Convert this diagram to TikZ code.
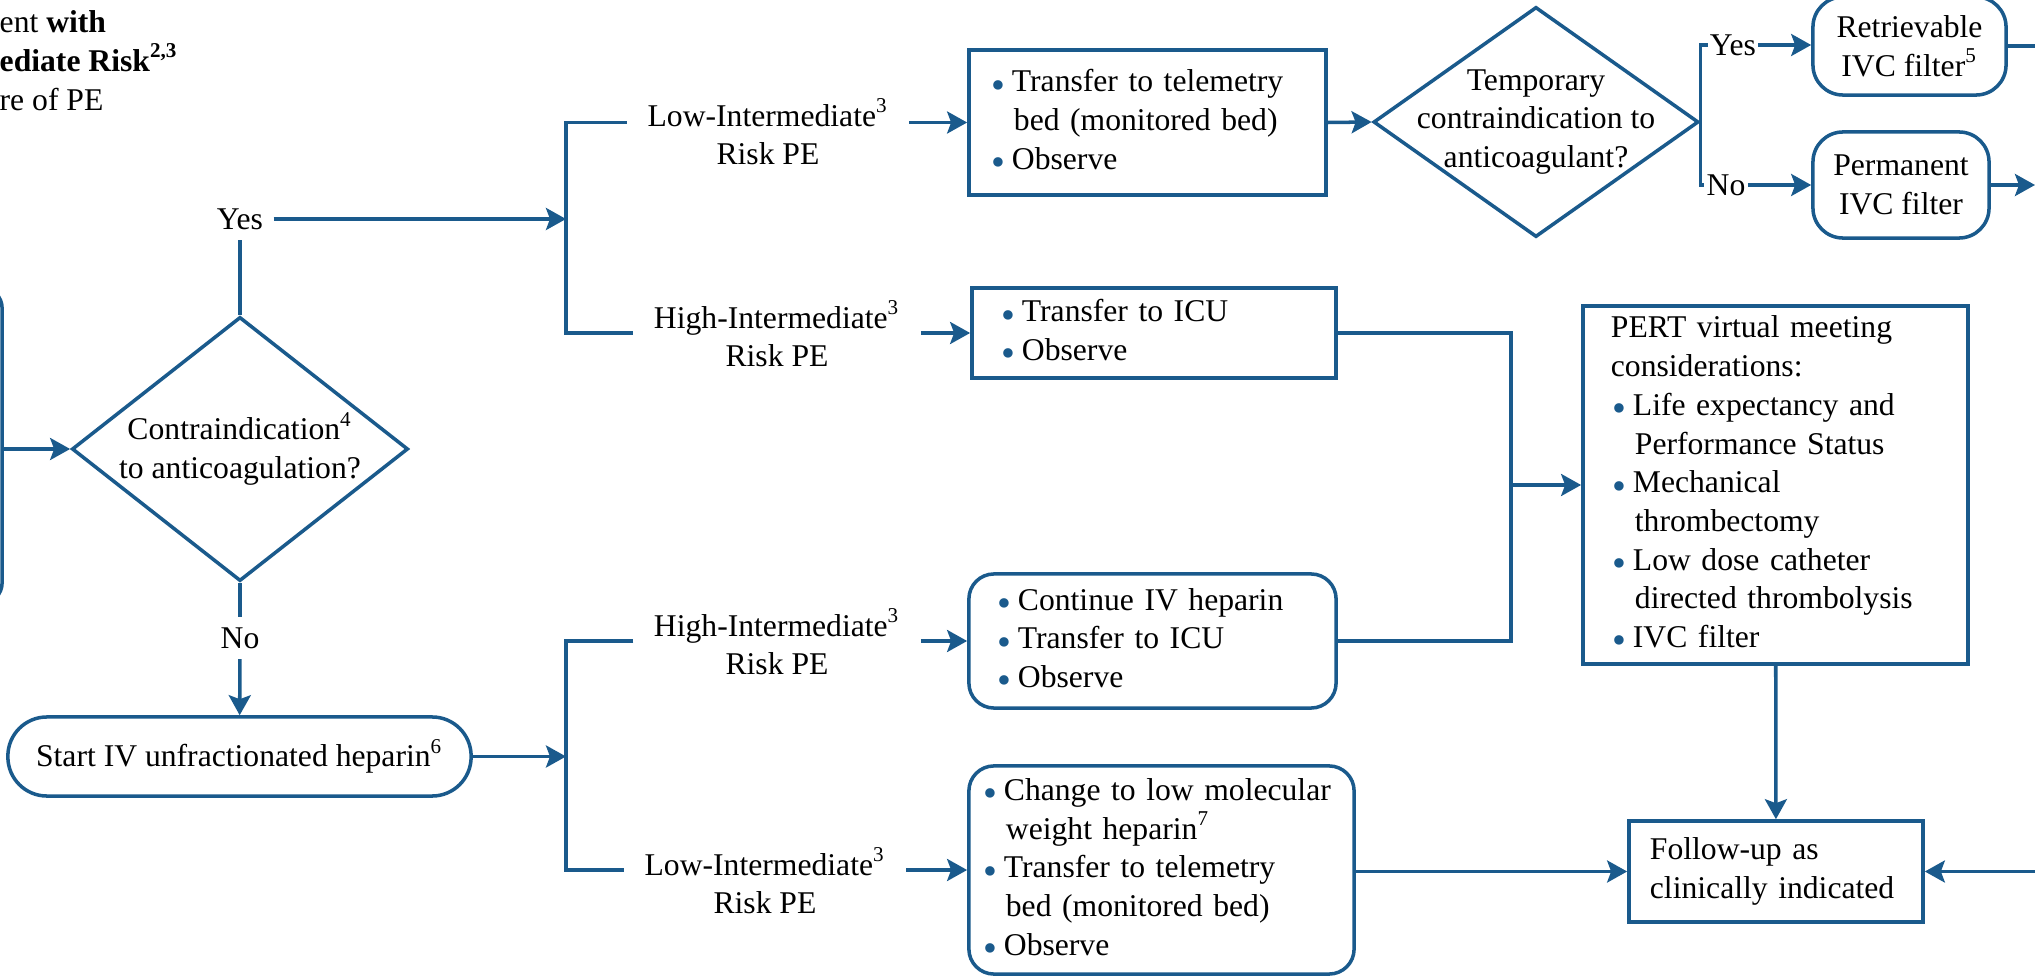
\documentclass[tikz,border=0pt]{standalone}
\usepackage{fontspec}
\setmainfont{Liberation Serif}
\usepackage{xcolor}
\definecolor{cMain}{HTML}{1A5A8C}
\usetikzlibrary{positioning,arrows.meta,shapes.geometric}
\newcommand{\fs}{\fontsize{9pt}{11pt}\selectfont}
\newcommand{\bul}{\makebox[0.15cm][l]{\hspace*{-0.05cm}\textcolor{cMain}{\raisebox{-0.45ex}{\scalebox{1.25}{•}}}}}
\newcommand{\bcont}{\hspace*{0.17cm}}
\tikzset{
  node-box/.style={draw=cMain,line width=1pt,rectangle,inner sep=0pt,
    align=left,font=\fs},
  node-round/.style={node-box,rounded corners=0.25cm},
  node-dec/.style={draw=cMain,line width=1pt,diamond,inner sep=-0.2cm,
    align=center,font=\fs},
  node-lab/.style={align=center,font=\fs,inner xsep=0.2cm,inner ysep=0.05cm},
  node-yn/.style={font=\fs,inner sep=0.1cm},
  plain-line/.style={line width=1pt,draw=cMain},
  arrow/.style={plain-line,-{Stealth[length=2mm,width=2.2mm,inset=0.4mm]}},
}

\begin{document}
\begin{tikzpicture}[x=0.01cm,y=-0.01cm]
  \useasboundingbox (0,0) rectangle (2035,976);
  % left part, cut off by the page edge
  \node[anchor=north west,inner sep=0pt,align=left,font=\fs] (head) at (-1,10)
    {ent \textbf{with}\\\textbf{ediate Risk}\textsuperscript{\textbf{2,3}}\\re of PE};
  \node[node-round,rounded corners=0.2cm,minimum width=3.02cm,minimum height=3.15cm] (prev) at (-149,445.5) {};

  \node[node-dec,minimum width=3.36cm,minimum height=2.64cm,aspect=1.27] (dec1) at (240,449)
    {Contraindication\textsuperscript{4}\\to anticoagulation?};
  \node[node-yn] (yes1) at (240,219) {Yes};
  \node[node-yn] (no1)  at (240,638) {No};
  \node[node-round,rounded corners=0.39cm,minimum width=4.63cm,minimum height=0.79cm] (start) at (239.5,756.5)
    {Start IV unfractionated heparin\textsuperscript{6}};

  % risk labels
  \node[node-lab] (lowA)  at (768,132) {Low-Intermediate\textsuperscript{3}\\Risk PE};
  \node[node-lab] (highA) at (777,334) {High-Intermediate\textsuperscript{3}\\Risk PE};
  \node[node-lab] (highB) at (777,642) {High-Intermediate\textsuperscript{3}\\Risk PE};
  \node[node-lab] (lowB)  at (765,881) {Low-Intermediate\textsuperscript{3}\\Risk PE};

  % actions
  \node[node-box,minimum width=3.57cm,minimum height=1.45cm,text width=3.01cm] (boxA) at (1147.5,122.5)
    {\bul Transfer to telemetry\\\bcont bed (monitored bed)\\\bul Observe};
  \node[node-box,minimum width=3.64cm,minimum height=0.9cm,text width=2.94cm] (boxB) at (1154,333)
    {\bul Transfer to ICU\\\bul Observe};
  \node[node-round,minimum width=3.67cm,minimum height=1.34cm,text width=2.99cm] (boxC) at (1152.5,641)
    {\bul Continue IV heparin\\\bul Transfer to ICU\\\bul Observe};
  \node[node-round,minimum width=3.85cm,minimum height=2.08cm,text width=3.45cm] (boxD) at (1161.5,870)
    {\bul Change to low molecular\\\bcont weight heparin\textsuperscript{7}\\\bul Transfer to telemetry\\\bcont bed (monitored bed)\\\bul Observe};

  \node[node-dec,minimum width=3.25cm,minimum height=2.3cm,aspect=1.41] (dec2) at (1536,122)
    {Temporary\\contraindication to\\anticoagulant?};
  \node[inner sep=0.5pt,font=\fs] (yes2) at (1733,45) {Yes};
  \node[inner sep=0.5pt,font=\fs] (no2)  at (1726,185) {No};
  \node[node-round,rounded corners=0.3cm,align=center,minimum width=1.93cm,minimum height=0.98cm] (retr) at (1909.5,46)
    {Retrievable\\IVC filter\textsuperscript{5}};
  \node[node-round,rounded corners=0.3cm,align=center,minimum width=1.76cm,minimum height=1.06cm] (perm) at (1901,185)
    {Permanent\\IVC filter};

  \node[node-box,minimum width=3.85cm,minimum height=3.58cm,text width=3.29cm] (pert) at (1775.5,485)
    {PERT virtual meeting\\considerations:\\
     \hspace*{0.07cm}\bul Life expectancy and\\\hspace*{0.07cm}\bcont Performance Status\\
     \hspace*{0.07cm}\bul Mechanical\\\hspace*{0.07cm}\bcont thrombectomy\\
     \hspace*{0.07cm}\bul Low dose catheter\\\hspace*{0.07cm}\bcont directed thrombolysis\\
     \hspace*{0.07cm}\bul IVC filter};
  \node[node-box,minimum width=2.94cm,minimum height=1.01cm,text width=2.52cm] (fol) at (1776,871.5)
    {Follow-up as\\clinically indicated};

  \coordinate (brA) at (566,219);
  \coordinate (brB) at (1511,485);
  \coordinate (brD) at (566,756.5);
  \coordinate (edgeR1) at (2045,46);
  \coordinate (edgeR2) at (2035,185);
  \coordinate (edgeR3) at (2045,871.5);

  % connectors
  \draw[arrow] (prev.east |- dec1) -- (dec1);
  \draw[plain-line] (dec1) -- (yes1);
  \draw[arrow] (yes1) -- (brA);
  \draw[plain-line] (lowA.west |- boxA) -| (brA) |- (highA.west |- boxB);
  \draw[arrow] (lowA.east |- boxA) -- (boxA);
  \draw[arrow] (highA.east |- boxB) -- (boxB);
  \draw[arrow] (boxA.east) -- (dec2.west);
  \draw[plain-line] (yes2.west) -| (dec2.east) |- (no2.west);
  \draw[arrow] (yes2) -- (retr.west |- yes2);
  \draw[arrow] (no2) -- (perm.west |- no2);
  \draw[plain-line] (retr) -- (edgeR1);
  \draw[arrow] (perm) -- (edgeR2);

  \draw[plain-line] (boxB.east) -| (brB) |- (boxC.east);
  \draw[arrow] (brB) -- (pert);
  \draw[arrow] (pert) -- (fol);
  \draw[arrow] (boxD.east |- fol) -- (fol);
  \draw[arrow] (edgeR3) -- (fol);

  \draw[plain-line] (dec1) -- (no1);
  \draw[arrow] (no1) -- (start);
  \draw[arrow] (start) -- (brD);
  \draw[plain-line] (highB.west |- boxC) -| (brD) |- (lowB.west |- boxD);
  \draw[arrow] (highB.east |- boxC) -- (boxC);
  \draw[arrow] (lowB.east |- boxD) -- (boxD);
\end{tikzpicture}
\end{document}
